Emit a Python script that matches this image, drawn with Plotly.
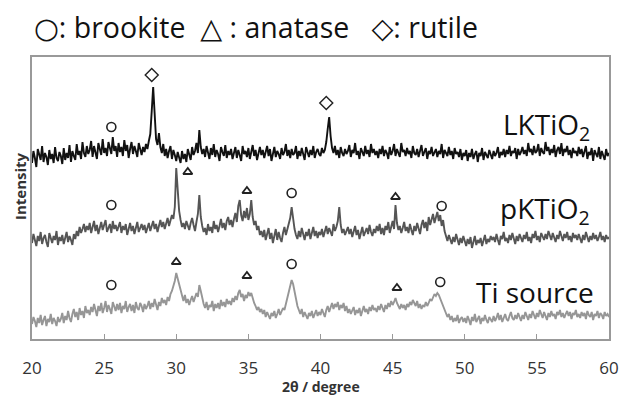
import plotly.graph_objects as go

# 2-theta grid: 20.0 .. 60.0 deg, 0.1 deg step (measurement grid)
two_theta = [round(20 + 0.1 * i, 1) for i in range(401)]

lk_tio2 = [
    176, 188, 181, 172, 190, 184, 179, 193, 177, 186, 182, 174, 189, 180, 185, 176, 192, 181, 178, 187,
    183, 175, 191, 179, 186, 181, 194, 177, 188, 183, 179, 195, 184, 188, 180, 197, 186, 182, 193, 185,
    189, 198, 182, 193, 187, 180, 196, 188, 184, 200, 186, 191, 183, 197, 189, 185, 202, 188, 193, 182,
    196, 187, 192, 183, 199, 188, 194, 181, 190, 197, 185, 193, 188, 182, 196, 189, 184, 192, 187, 195,
    190, 198, 205, 228, 252, 226, 200, 194, 206, 192, 186, 195, 183, 190, 181, 188, 193, 180, 189, 184,
    178, 187, 182, 176, 188, 180, 185, 177, 190, 183, 179, 192, 184, 188, 196, 186, 209, 192, 185, 190,
    182, 193, 186, 180, 191, 184, 195, 182, 189, 185, 178, 192, 187, 183, 194, 181, 188, 184, 190, 180,
    186, 192, 181, 189, 184, 178, 193, 185, 188, 182, 191, 180, 187, 194, 183, 189, 179, 186, 192, 184,
    189, 181, 187, 193, 183, 190, 178, 186, 192, 182, 188, 185, 180, 191, 184, 187, 195, 183, 189, 181,
    190, 184, 186, 193, 180, 188, 183, 191, 185, 179, 192, 186, 182, 189, 184, 193, 181, 187, 190, 185,
    183, 191, 186, 189, 197, 210, 222, 203, 191, 186, 193, 184, 189, 181, 192, 186, 183, 190, 185, 188,
    194, 182, 189, 186, 196, 184, 188, 180, 191, 187, 183, 193, 185, 189, 182, 195, 186, 190, 184, 188,
    181, 190, 185, 193, 183, 189, 186, 180, 192, 184, 188, 195, 183, 190, 185, 182, 196, 187, 189, 183,
    191, 185, 188, 181, 193, 186, 184, 190, 182, 189, 194, 183, 187, 191, 180, 188, 185, 192, 183, 187,
    190, 182, 188, 185, 195, 181, 189, 186, 183, 192, 184, 188, 180, 191, 185, 187, 182, 190, 179, 186,
    183, 189, 178, 186, 182, 190, 180, 185, 188, 177, 186, 183, 191, 179, 187, 184, 181, 189, 185, 180,
    188, 183, 186, 192, 181, 187, 184, 190, 182, 189, 185, 193, 183, 188, 186, 191, 180, 190, 184, 187,
    192, 185, 189, 183, 196, 187, 190, 184, 193, 186, 188, 195, 183, 191, 187, 185, 197, 188, 192, 184,
    190, 186, 194, 182, 189, 192, 185, 196, 183, 190, 187, 193, 184, 189, 181, 191, 186, 188, 183, 192,
    185, 190, 182, 188, 193, 180, 187, 184, 191, 178, 189, 185, 182, 192, 180, 188, 184, 179, 190, 183,
    186,
]

pk_tio2 = [
    96, 105, 99, 93, 103, 98, 107, 95, 101, 104, 97, 92, 106, 100, 96, 103, 99, 108, 94, 102,
    98, 104, 95, 101, 107, 97, 103, 99, 94, 105, 100, 108, 103, 112, 106, 110, 115, 107, 113, 109,
    116, 106, 112, 118, 108, 114, 105, 111, 117, 109, 113, 119, 107, 112, 115, 106, 118, 110, 114, 108,
    112, 117, 106, 113, 109, 115, 104, 111, 116, 108, 113, 105, 110, 117, 107, 112, 115, 109, 114, 106,
    111, 116, 108, 113, 118, 110, 115, 107, 114, 119, 112, 117, 110, 116, 121, 113, 118, 124, 120, 132,
    171, 150, 128, 119, 112, 116, 110, 118, 113, 109, 116, 121, 114, 108, 117, 125, 144, 122, 113, 107,
    111, 104, 115, 108, 112, 106, 118, 110, 114, 107, 113, 120, 111, 116, 109, 118, 122, 114, 119, 112,
    120, 126, 117, 133, 139, 124, 118, 128, 121, 131, 119, 125, 139, 122, 114, 118, 109, 113, 104, 108,
    102, 109, 99, 105, 111, 100, 106, 96, 103, 110, 99, 107, 101, 97, 106, 112, 104, 109, 116, 121,
    132, 118, 110, 104, 100, 108, 102, 111, 105, 99, 107, 103, 110, 100, 106, 112, 103, 108, 101, 107,
    104, 110, 102, 108, 113, 105, 111, 107, 103, 115, 108, 112, 118, 132, 114, 106, 110, 104, 109, 112,
    105, 110, 102, 108, 113, 104, 109, 100, 107, 112, 103, 108, 111, 105, 114, 107, 103, 110, 106, 113,
    108, 115, 105, 111, 104, 113, 109, 117, 106, 112, 118, 110, 134, 116, 109, 113, 106, 111, 117, 108,
    112, 106, 115, 109, 104, 113, 108, 116, 110, 105, 114, 119, 111, 117, 108, 122, 114, 120, 125, 116,
    121, 127, 118, 124, 113, 119, 108, 103, 98, 104, 100, 95, 102, 97, 105, 99, 94, 101, 96, 103,
    98, 93, 100, 95, 102, 91, 97, 103, 94, 99, 96, 101, 93, 98, 104, 95, 100, 97, 103, 99,
    102, 97, 105, 99, 94, 103, 100, 107, 98, 101, 96, 104, 99, 106, 100, 95, 103, 98, 105, 101,
    97, 104, 100, 107, 98, 102, 96, 105, 101, 108, 99, 103, 97, 106, 102, 99, 105, 100, 108, 103,
    99, 106, 101, 97, 104, 100, 108, 102, 98, 105, 101, 107, 99, 103, 97, 106, 101, 104, 99, 105,
    100, 96, 104, 99, 107, 101, 97, 103, 99, 106, 100, 104, 98, 102, 107, 99, 103, 97, 104, 100,
    102,
]

ti_source = [
    15, 22, 18, 12, 21, 16, 24, 14, 19, 23, 13, 20, 17, 25, 15, 21, 18, 13, 22, 17,
    20, 26, 16, 23, 19, 28, 21, 17, 25, 30, 22, 27, 19, 31, 24, 28, 21, 33, 26, 29,
    24, 32, 27, 35, 29, 23, 33, 28, 36, 26, 31, 38, 27, 34, 30, 25, 37, 31, 28, 35,
    29, 36, 26, 33, 30, 38, 27, 32, 35, 28, 34, 26, 37, 31, 29, 36, 33, 27, 35, 30,
    33, 38, 30, 36, 32, 40, 34, 29, 37, 33, 41, 36, 39, 34, 42, 38, 45, 48, 53, 58,
    66, 60, 55, 47, 42, 38, 44, 36, 40, 34, 39, 43, 37, 41, 46, 42, 54, 48, 40, 35,
    31, 37, 29, 34, 32, 38, 28, 35, 31, 36, 30, 39, 33, 37, 32, 40, 35, 38, 34, 41,
    37, 43, 39, 46, 49, 42, 45, 38, 44, 41, 47, 43, 46, 40, 36, 33, 29, 32, 27, 30,
    25, 29, 22, 27, 24, 20, 26, 23, 28, 21, 25, 30, 24, 27, 31, 29, 35, 40, 46, 52,
    59, 55, 47, 40, 33, 29, 25, 30, 22, 27, 24, 20, 26, 23, 28, 21, 25, 29, 23, 27,
    24, 30, 26, 22, 29, 33, 27, 31, 36, 30, 35, 32, 37, 29, 34, 31, 36, 28, 33, 26,
    30, 25, 28, 32, 24, 29, 26, 31, 23, 28, 33, 27, 30, 25, 32, 28, 34, 29, 31, 27,
    33, 29, 35, 31, 27, 34, 30, 36, 32, 38, 34, 37, 41, 36, 33, 30, 35, 31, 34, 29,
    35, 32, 37, 34, 39, 36, 33, 38, 31, 35, 30, 34, 32, 37, 33, 36, 40, 38, 42, 45,
    43, 46, 44, 40, 37, 33, 29, 26, 22, 25, 19, 23, 17, 21, 18, 24, 16, 20, 22, 17,
    21, 16, 23, 19, 14, 22, 18, 25, 17, 20, 23, 15, 21, 18, 24, 19, 16, 22, 20, 17,
    23, 18, 21, 26, 19, 24, 17, 22, 25, 20, 18, 23, 27, 21, 19, 24, 20, 26, 22, 18,
    24, 20, 27, 22, 19, 25, 21, 28, 23, 20, 26, 22, 29, 24, 21, 27, 23, 19, 26, 22,
    28, 23, 25, 20, 27, 24, 29, 22, 26, 21, 25, 28, 23, 27, 20, 26, 24, 29, 22, 25,
    21, 27, 23, 26, 20, 28, 24, 22, 27, 19, 25, 23, 28, 21, 26, 24, 20, 27, 23, 25,
    22,
]

# phase markers (2theta, height)
brookite_x = [25.5, 25.5, 38.0, 48.4, 25.5, 38.0, 48.3]
brookite_y = [212, 134, 146, 133, 54, 75, 57]
anatase_x = [30.8, 34.9, 45.2, 30.0, 34.9, 45.3]
anatase_y = [167, 148, 142, 77, 63, 51]
rutile_x = [28.3, 40.4]
rutile_y = [264, 236]

sample_names = ["LKTiO<sub>2</sub>", "pKTiO<sub>2</sub>", "Ti source"]
sample_label_x = [58.8, 58.85, 59.1]
sample_label_y = [213, 129, 47]
line_colors = ["#111111", "#555555", "#969696"]

x_ticks = [20, 25, 30, 35, 40, 45, 50, 55, 60]

FONT = "Open Sans, DejaVu Sans"

fig = go.Figure()
for ys, col in zip([lk_tio2, pk_tio2, ti_source], line_colors):
    fig.add_trace(go.Scatter(x=two_theta, y=ys, mode="lines",
                             line=dict(color=col, width=1.9), hoverinfo="skip"))

fig.add_trace(go.Scatter(x=brookite_x, y=brookite_y, mode="markers",
                         marker=dict(symbol="circle-open", size=9, color="#222",
                                     line=dict(width=1.6, color="#222"))))
fig.add_trace(go.Scatter(x=anatase_x, y=anatase_y, mode="markers",
                         marker=dict(symbol="triangle-up-open", size=8, color="#222",
                                     line=dict(width=1.8, color="#222"))))
fig.add_trace(go.Scatter(x=rutile_x, y=rutile_y, mode="markers",
                         marker=dict(symbol="diamond-open", size=10, color="#222",
                                     line=dict(width=1.4, color="#222"))))

for name, xx, yy in zip(sample_names, sample_label_x, sample_label_y):
    fig.add_annotation(x=xx, y=yy, xref="x", yref="y", text=name, showarrow=False,
                       xanchor="right", yanchor="middle",
                       font=dict(family=FONT, size=28, color="#111"))

fig.add_annotation(x=0.0, y=1.0, xref="paper", yref="paper", yshift=30,
                   text="○: brookite  △ : anatase   ◇: rutile", showarrow=False,
                   xanchor="left", yanchor="middle",
                   font=dict(family=FONT, size=28.5, color="#111"))

# y-axis title (rotated text, slightly above the plot centre as in the reference)
fig.add_annotation(x=0.0, y=153, xref="paper", yref="y", xshift=-12,
                   text="<b>Intensity</b>", textangle=-90, showarrow=False,
                   xanchor="center", yanchor="middle",
                   font=dict(family=FONT, size=15, color="#333"))

# x-axis title
fig.add_annotation(x=0.5, y=0.0, xref="paper", yref="paper", yshift=-47,
                   text="<b>2θ / degree</b>", showarrow=False,
                   xanchor="center", yanchor="middle",
                   font=dict(family=FONT, size=14, color="#333"))

fig.update_layout(
    width=619, height=397,
    margin=dict(l=32, r=10, t=57, b=58),
    paper_bgcolor="white", plot_bgcolor="white",
    showlegend=False,
    xaxis=dict(range=[20, 60], tickvals=x_ticks, ticks="inside", ticklen=5,
               tickcolor="#999", showline=True, linecolor="#999", linewidth=1.5,
               mirror=True, showgrid=False, zeroline=False, automargin=False,
               ticklabelstandoff=13,
               tickfont=dict(family=FONT, size=17, color="#333")),
    yaxis=dict(range=[0, 282], showticklabels=False, ticks="", showline=True,
               linecolor="#999", linewidth=1.5, mirror=True, showgrid=False,
               zeroline=False, automargin=False),
)

fig.write_html("out.html")
